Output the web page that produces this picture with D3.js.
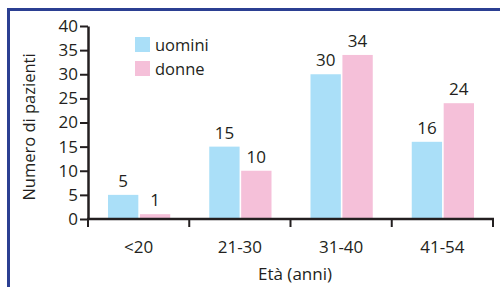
<!DOCTYPE html>
<html>
<head>
<meta charset="utf-8">
<script src="https://cdn.jsdelivr.net/npm/d3@7"></script>
<style>
  body { margin: 0; background: #fff; }
  text { font-family: "Open Sans", sans-serif; fill: #231f20; }
</style>
</head>
<body>
<svg id="chart" width="500" height="287"></svg>
<script>
var categories = ["<20", "21-30", "31-40", "41-54"];
var seriesNames = ["uomini", "donne"];
var uomini = [5, 15, 30, 16];
var donne = [1, 10, 34, 24];
var yTicks = [0, 5, 10, 15, 20, 25, 30, 35, 40];
var colors = ["#aadff8", "#f5c0d9"];

var svg = d3.select("#chart");

// frame (top + left only)
svg.append("line").attr("x1", 7).attr("x2", 500).attr("y1", 9.5).attr("y2", 9.5)
  .attr("stroke", "#2b3f92").attr("stroke-width", 3);
svg.append("line").attr("x1", 8.5).attr("x2", 8.5).attr("y1", 8).attr("y2", 287)
  .attr("stroke", "#2b3f92").attr("stroke-width", 3);

var x0 = d3.scaleBand().domain(categories).range([88, 493]).paddingInner(0).paddingOuter(0);
var x1 = d3.scaleBand().domain(seriesNames).range([20, x0.bandwidth() - 19]).paddingInner(0.05);
var y = d3.scaleLinear().domain([0, 40]).range([219, 26]);

var rows = categories.map(function(c, i) {
  return { cat: c, vals: [uomini[i], donne[i]] };
});

var g = svg.append("g");
var groups = g.selectAll("g.grp").data(rows).enter().append("g")
  .attr("transform", function(d) { return "translate(" + x0(d.cat) + ",0)"; });

groups.selectAll("rect").data(function(d) { return d.vals; }).enter().append("rect")
  .attr("x", function(d, i) { return x1(seriesNames[i]); })
  .attr("width", x1.bandwidth())
  .attr("y", function(d) { return y(d); })
  .attr("height", function(d) { return y(0) - y(d); })
  .attr("fill", function(d, i) { return colors[i]; });

groups.selectAll("text").data(function(d) { return d.vals; }).enter().append("text")
  .attr("x", function(d, i) { return x1(seriesNames[i]) + x1.bandwidth() / 2; })
  .attr("y", function(d) { return y(d) - 8; })
  .attr("text-anchor", "middle")
  .style("font-size", "17px")
  .text(function(d) { return d; });

// y axis
var yAxis = d3.axisLeft(y).tickValues(yTicks).tickSize(8).tickPadding(2).tickSizeOuter(0);
var ya = svg.append("g").attr("transform", "translate(88,0)").call(yAxis);
ya.select(".domain").attr("stroke", "#231f20").attr("stroke-width", 2.5);
ya.selectAll(".tick line").attr("stroke", "#231f20").attr("stroke-width", 2);
ya.selectAll("text").style("font-size", "17px").style("fill", "#231f20")
  .attr("font-family", null);

// x axis: ticks at band boundaries
var xa = svg.append("g").attr("transform", "translate(0,219)");
xa.append("line").attr("x1", 87).attr("x2", 494).attr("y1", 0).attr("y2", 0)
  .attr("stroke", "#231f20").attr("stroke-width", 2.5);
var bounds = categories.map(function(c) { return x0(c); }).concat([x0.range()[1]]);
xa.selectAll("line.t").data(bounds).enter().append("line").attr("class", "t")
  .attr("x1", function(d) { return d; }).attr("x2", function(d) { return d; })
  .attr("y1", 0).attr("y2", 8).attr("stroke", "#231f20").attr("stroke-width", 2);
xa.selectAll("text").data(categories).enter().append("text")
  .attr("x", function(d) { return x0(d) + x0.bandwidth() / 2; })
  .attr("y", 34)
  .attr("text-anchor", "middle")
  .style("font-size", "17px")
  .text(function(d) { return d; });

// titles
svg.append("text").attr("x", 295).attr("y", 280).attr("text-anchor", "middle")
  .style("font-size", "17px").text("Età (anni)");
svg.append("text").attr("transform", "translate(35,127) rotate(-90)")
  .attr("text-anchor", "middle").style("font-size", "16.5px").text("Numero di pazienti");

// legend
var legend = svg.append("g");
seriesNames.forEach(function(s, i) {
  legend.append("rect").attr("x", 135).attr("y", 37 + i * 24).attr("width", 15).attr("height", 15)
    .attr("fill", colors[i]);
  legend.append("text").attr("x", 155).attr("y", 51 + i * 24).style("font-size", "16.5px").text(s);
});
</script>
</body>
</html>
